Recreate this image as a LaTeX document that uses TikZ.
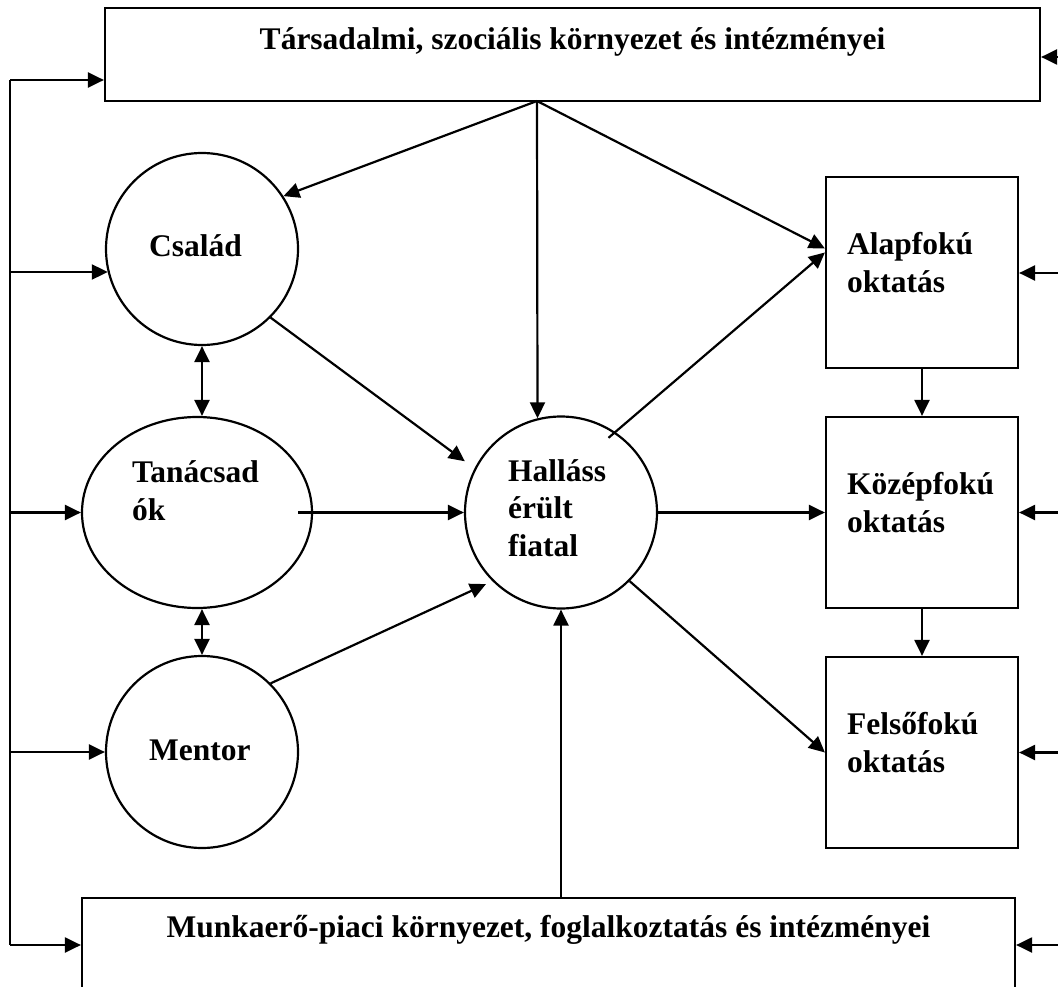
\documentclass[tikz,border=0pt]{standalone}
\usepackage{fontspec}
\setmainfont{Liberation Serif}
\usetikzlibrary{positioning, arrows.meta, shapes.geometric}

\tikzset{
  kor/.style={circle, draw=black, line width=2.2pt, minimum size=192pt, inner sep=0pt},
  tojas/.style={ellipse, draw=black, line width=2.2pt, minimum width=230pt, minimum height=191pt, inner sep=0pt},
  doboz/.style={rectangle, draw=black, line width=2.2pt, inner sep=0pt},
  felirat/.style={font=\bfseries\fontsize{31.5}{37.5}\selectfont, inner sep=0pt, align=left},
  nyil/.style={line width=2.2pt, -{Triangle[length=16pt, width=15pt]}},
  ketnyil/.style={line width=2.2pt, {Triangle[length=16pt, width=15pt]}-{Triangle[length=16pt, width=15pt]}}
}

\begin{document}
\begin{tikzpicture}[x=1pt, y=-1pt]
            \useasboundingbox (0, 0) rectangle (1058, 987);

            \node[doboz, minimum width=935pt, minimum height=93pt] (tars) at (572.5, 54.5) {};
            \node[felirat, anchor=base] (tars-t) at (572.5, 50) {Társadalmi, szociális környezet és intézményei};
            \node[kor] (csalad) at (202, 249) {};
            \node[felirat, anchor=base west] (csalad-t) at (149, 257) {Család};
            \node[tojas] (tanacs) at (197, 512.5) {};
            \node[felirat, anchor=base west] (tanacs-t) at (132, 520) {Tanácsad\\ók};
            \node[kor] (mentor) at (202, 752) {};
            \node[felirat, anchor=base west] (mentor-t) at (149, 760) {Mentor};
            \node[kor] (fiatal) at (561, 512.5) {};
            \node[felirat, anchor=base west] (fiatal-t) at (508, 556) {Halláss\\érült\\fiatal};
            \node[doboz, minimum width=192pt, minimum height=191pt] (alap) at (922, 272.5) {};
            \node[felirat, anchor=base west] (alap-t) at (847, 292) {Alapfokú\\oktatás};
            \node[doboz, minimum width=192pt, minimum height=191pt] (kozep) at (922, 512.5) {};
            \node[felirat, anchor=base west] (kozep-t) at (847, 532) {Középfokú\\oktatás};
            \node[doboz, minimum width=192pt, minimum height=191pt] (felso) at (922, 752.5) {};
            \node[felirat, anchor=base west] (felso-t) at (847, 772) {Felsőfokú\\oktatás};
            \node[doboz, minimum width=933pt, minimum height=110pt, anchor=north] (munka) at (548.5, 897) {};
            \node[felirat, anchor=base] (munka-t) at (548.5, 937) {Munkaerő-piaci környezet, foglalkoztatás és intézményei};

            \coordinate (t0) at (537, 101);
            \coordinate (b1) at (10, 80);
            \coordinate (b2) at (10, 272);
            \coordinate (b3) at (10, 512.5);
            \coordinate (b4) at (10, 752);
            \coordinate (b5) at (10, 945);
            \coordinate (j1) at (1065, 57);
            \coordinate (j2) at (1065, 273);
            \coordinate (j3) at (1065, 512.5);
            \coordinate (j4) at (1065, 752.5);
            \coordinate (j5) at (1065, 945);

            \draw[line width=2.2pt] (b1) -- (b5);
            \draw[nyil] (b1) -- (b1 -| tars.west);
            \draw[nyil] (b2) -- (b2 -| csalad.194);
            \draw[nyil] (b3) -- (tanacs.west);
            \draw[nyil] (b4) -- (mentor.west);
            \draw[nyil] (b5) -- (b5 -| munka.west);
            \draw[nyil] (j1) -- (j1 -| tars.east);
            \draw[nyil] (j2) -- (j2 -| alap.east);
            \draw[nyil] (j3) -- (kozep.east);
            \draw[nyil] (j4) -- (felso.east);
            \draw[nyil] (j5) -- (j5 -| munka.east);

            \draw[nyil] (t0) -- (csalad.33);
            \draw[nyil] (t0) -- (fiatal.104);
            \draw[nyil] (t0) -- ([yshift=24pt]alap.west);
            \draw[nyil, shorten <=-9pt] (fiatal.56) -- ([yshift=20pt]alap.west);
            \draw[nyil, shorten >=12pt] (csalad.-45) -- (fiatal.153);
            \draw[nyil, shorten <=-15pt] (tanacs.east) -- (fiatal.west);
            \draw[nyil, shorten >=7pt] (mentor.45) -- (fiatal.225);
            \draw[nyil] (fiatal.east) -- (kozep.west);
            \draw[nyil] (fiatal.-45) -- (felso.west);
            \draw[nyil] (munka.north -| fiatal.south) -- (fiatal.south);
            \draw[nyil] (alap.south) -- (kozep.north);
            \draw[nyil] (kozep.south) -- (felso.north);
            \draw[ketnyil] (csalad.south) -- (csalad.south |- tanacs.north);
            \draw[ketnyil] (mentor.north |- tanacs.south) -- (mentor.north);
        \end{tikzpicture}
\end{document}
